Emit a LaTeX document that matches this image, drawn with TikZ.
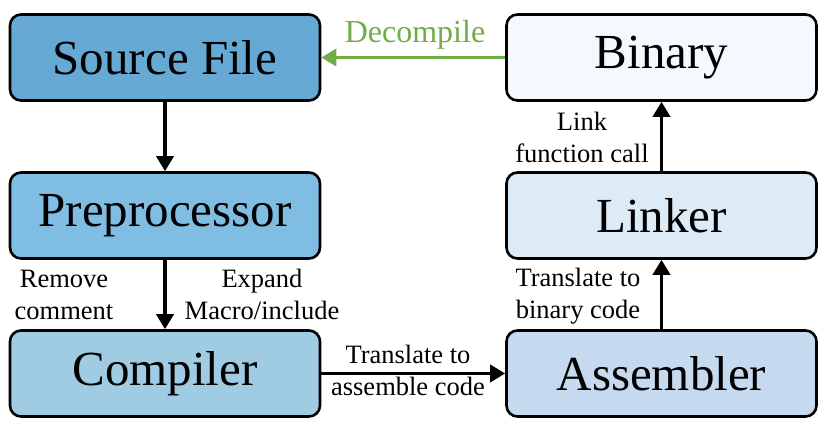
\documentclass[tikz,border=0pt]{standalone}
\usepackage{fontspec}
\setmainfont{Liberation Serif}
\usetikzlibrary{arrows.meta}
\definecolor{cSrc}{HTML}{66A9D5}
\definecolor{cPre}{HTML}{80BDE2}
\definecolor{cCmp}{HTML}{9FCCE2}
\definecolor{cBin}{HTML}{F5F9FF}
\definecolor{cLnk}{HTML}{DDEBF7}
\definecolor{cAsm}{HTML}{C5DAEE}
\definecolor{cGreen}{HTML}{70AD47}
\tikzset{
  stagebox/.style={draw=black, line width=2.6pt, rounded corners=11pt,
    minimum width=310pt, minimum height=86pt, inner sep=0pt,
    font=\fontsize{49}{54}\selectfont},
  flowarrow/.style={line width=3.6pt, -{Triangle[width=17pt,length=15pt]}},
  steplabel/.style={font=\fontsize{26.5}{32}\selectfont, align=center, inner sep=0pt, anchor=base}
}
\begin{document}
\begin{tikzpicture}[x=1pt,y=-1pt]
\useasboundingbox (0,0) rectangle (828,434);
\node[stagebox, fill=cSrc] (src) at (165,57.5) {Source File};
\node[stagebox, fill=cBin] (bin) at (661.5,57.5) {Binary};
\node[stagebox, fill=cPre] (pre) at (165,215.5) {Preprocessor};
\node[stagebox, fill=cLnk] (lnk) at (661.5,215.5) {Linker};
\node[stagebox, fill=cCmp] (cmp) at (165,373.5) {Compiler};
\node[stagebox, fill=cAsm] (asm) at (661.5,373.5) {Assembler};

\draw[flowarrow] (src) -- (pre);
\draw[flowarrow] (pre) -- (cmp);
\draw[flowarrow] (cmp) -- (asm);
\draw[flowarrow] (asm) -- (lnk);
\draw[flowarrow] (lnk) -- (bin);
\draw[flowarrow, draw=cGreen, fill=cGreen] (bin) -- (src);

\node[steplabel, text=cGreen, font=\fontsize{32}{36}\selectfont] (dec) at (415,42) {Decompile};
\node[steplabel] (rem) at (64,319) {Remove\\comment};
\node[steplabel] (exp) at (262,319) {Expand\\Macro/include};
\node[steplabel] (tasm) at (408,395) {Translate to\\assemble code};
\node[steplabel] (tbin) at (578,318) {Translate to\\binary code};
\node[steplabel] (lnkl) at (582,162) {Link\\function call};
\end{tikzpicture}
\end{document}
